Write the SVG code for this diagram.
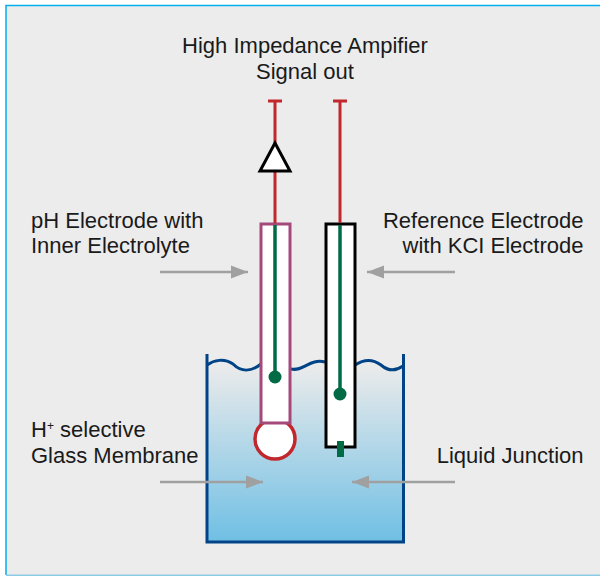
<svg xmlns="http://www.w3.org/2000/svg" width="600" height="576" viewBox="0 0 600 576">
<style>
text{font-family:"Liberation Sans",Arial,sans-serif;font-size:22px;fill:#1a1a1a}
.red{stroke:#c1272d;stroke-width:3;fill:none}
.green{stroke:#006b45;stroke-width:3.500;fill:none}
.dot{fill:#006b45}
.arrow{stroke:#a0a0a0;stroke-width:2.500;fill:none;marker-end:url(#head)}
.wave{stroke:#004487;stroke-width:3;fill:none}
</style>
<defs>
<linearGradient id="water" x1="0" y1="365" x2="0" y2="542" gradientUnits="userSpaceOnUse">
<stop offset="0" stop-color="#ebebeb"/><stop offset="1" stop-color="#6fbfe4"/>
</linearGradient>
<marker id="head" markerUnits="userSpaceOnUse" markerWidth="18" markerHeight="14" refX="17" refY="7" orient="auto">
<path d="M0 0.500L17 7L0 13.500Z" fill="#a0a0a0"/>
</marker>
</defs>
<rect width="600" height="576" fill="#fff"/>
<g id="frame">
<rect x="6" y="5.500" width="600" height="570" fill="#ececec"/>
<path d="M600 5.500H6V575" fill="none" stroke="#00aeef" stroke-width="1.500"/>
<path d="M6 575.300H600" fill="none" stroke="#8ccbe6" stroke-width="1.500"/>
</g>
<g id="beaker">
<path d="M207 365C214 360 224 358 233 364C241 372 251 372 261 364V423H291V369C303 372 310 358 325 362V447H355V365C364 359 373 359 381 365C388 371 396 371 403 366V542H207Z" fill="url(#water)"/>
<path class="wave" d="M207 365C214 360 224 358 233 364C241 372 251 372 261 364"/>
<path class="wave" d="M291 369C303 372 310 358 325 362"/>
<path class="wave" d="M355 365C364 359 373 359 381 365C388 371 396 371 403 366"/>
<path d="M207 354V542H403.500V354" fill="none" stroke="#004487" stroke-width="3"/>
</g>
<g id="ph-electrode">
<circle cx="275" cy="439" r="20" fill="#fff" stroke="#c1272d" stroke-width="3.500"/>
<rect x="261" y="224" width="29" height="199" fill="#fff" stroke="#a5487a" stroke-width="3"/>
<path class="green" d="M275 225V377"/>
<circle class="dot" cx="275" cy="377" r="6.500"/>
</g>
<g id="reference-electrode">
<rect x="326" y="224" width="29" height="223" fill="#fff" stroke="#000" stroke-width="3"/>
<path class="green" d="M340 225V394"/>
<circle class="dot" cx="340" cy="394" r="6.500"/>
<rect class="dot" x="337" y="441" width="7" height="16"/>
</g>
<g id="amplifier">
<path class="red" d="M268 101H282M275 101V143M275 171V223"/>
<path d="M275 143L290 171H260Z" fill="#fff" stroke="#000" stroke-width="3"/>
</g>
<g id="reference-lead">
<path class="red" d="M333 101H347M340 101V223"/>
</g>
<g id="connectors">
<path class="arrow" d="M160 272H248"/>
<path class="arrow" d="M455 272H367"/>
<path class="arrow" d="M160 482H263"/>
<path class="arrow" d="M455 482H352"/>
</g>
<g id="labels">
<text x="305" y="53" text-anchor="middle">High Impedance Ampifier</text>
<text x="305" y="79" text-anchor="middle">Signal out</text>
<text x="31" y="228">pH Electrode with</text>
<text x="31" y="253">Inner Electrolyte</text>
<text x="583.500" y="228" text-anchor="end">Reference Electrode</text>
<text x="583.500" y="253" text-anchor="end">with KCI Electrode</text>
<text x="31" y="437">H<tspan font-size="12" dy="-7">+</tspan><tspan dy="7"> selective</tspan></text>
<text x="31" y="462.500">Glass Membrane</text>
<text x="583.500" y="462.500" text-anchor="end">Liquid Junction</text>
</g>
</svg>
